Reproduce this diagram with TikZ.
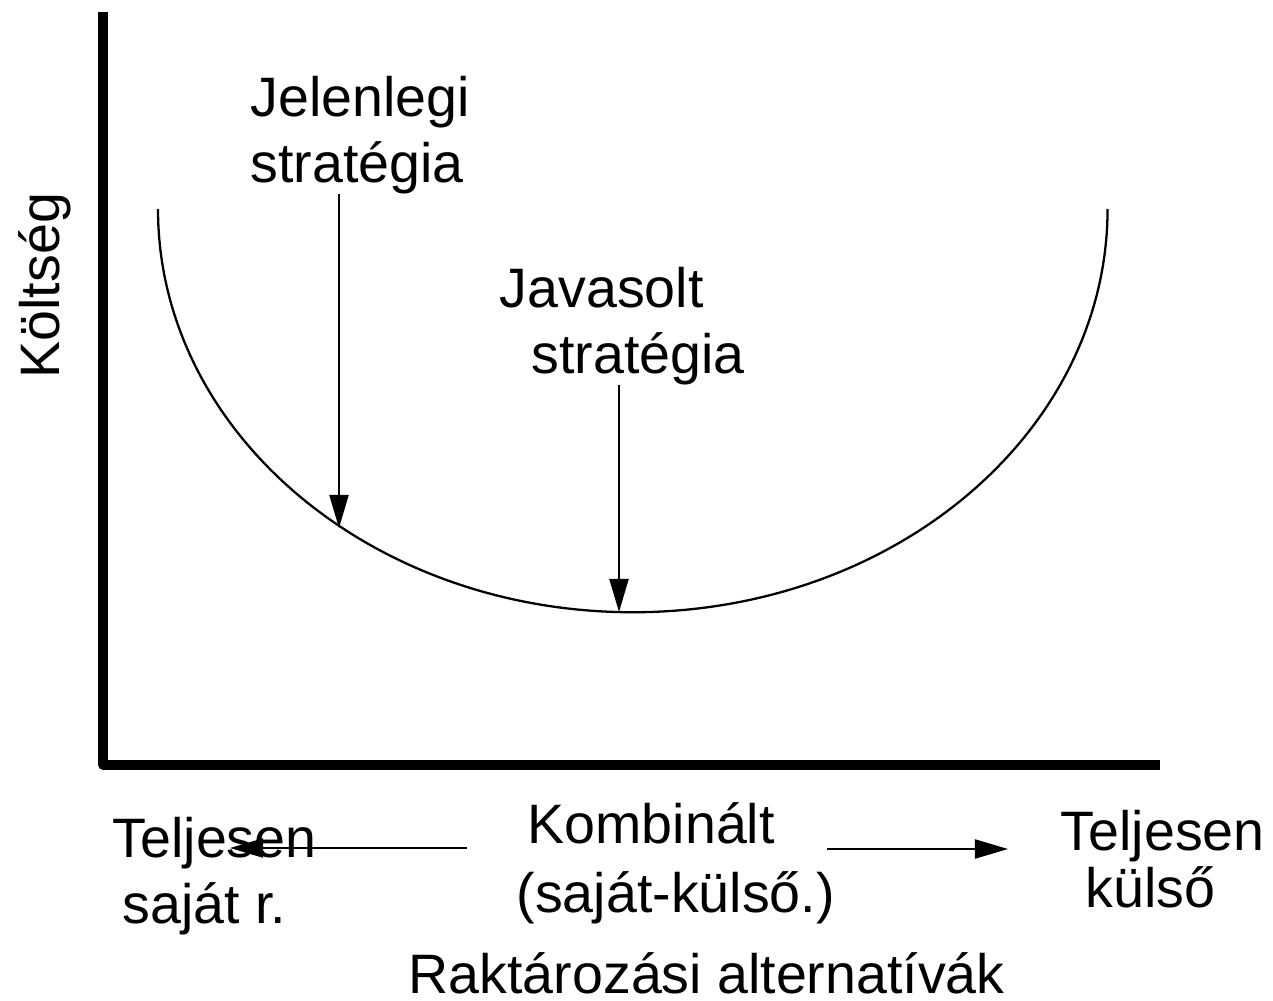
\documentclass[tikz,border=0pt]{standalone}
\usepackage{fontspec}
\setmainfont{Liberation Sans}
\usetikzlibrary{arrows.meta}

\begin{document}
\begin{tikzpicture}[x=0.01cm,y=-0.01cm,
    axis/.style={line width=2.6pt,line join=round},
    curve/.style={line width=0.65pt},
    pointer/.style={line width=0.6pt,-{Triangle[length=0.33cm,width=0.19cm]}},
    lbl/.style={font=\fontsize{15.8}{18.5}\selectfont,align=left,inner sep=0pt,anchor=base west}]
    \useasboundingbox (0,0) rectangle (1273,1000);
    % axes
    \coordinate (top) at (103,12);
    \coordinate (origin) at (103,765);
    \coordinate (right) at (1160,765);
    \draw [axis] (top) -- (origin) -- (right);
    % cost curve
    \draw [curve] (158,209) arc (180:360:4.745cm and 4.03cm);
    \coordinate (jel hit) at (339,528);
    \coordinate (jav hit) at (619,612);
    % labels (anchored on the baseline of the last line)
    \node [lbl, rotate=90] (cost) at (59,379) {Költség};
    \node [lbl] (jel) at (250,182) {Jelenlegi\\stratégia};
    \node [lbl] (jav) at (499,373) {Javasolt\\\hspace*{0.32cm}stratégia};
    \node [lbl] (own) at (112,923) {Teljesen\\\hspace*{0.1cm}saját r.};
    \node [lbl] (comb) at (516,912) {\hspace*{0.11cm}Kombinált\\[1pt](saját-külső.)};
    \node [lbl] (ext) at (1060,907) {Teljesen\\[-2.3pt]\hspace*{0.25cm}külső};
    \node [lbl] (alt) at (408,993) {Raktározási alternatívák};
    % pointers
    \draw [pointer] (jel.south -| jel hit) -- (jel hit);
    \draw [pointer] (jav.south -| jav hit) -- (jav hit);
    \coordinate (own tip) at (230,848);
    \coordinate (ext tip) at (1008,849);
    \draw [pointer] (comb.west |- own tip) ++(-49,0) -- (own tip);
    \draw [pointer] (827,849) -- (ext tip);
\end{tikzpicture}
\end{document}
